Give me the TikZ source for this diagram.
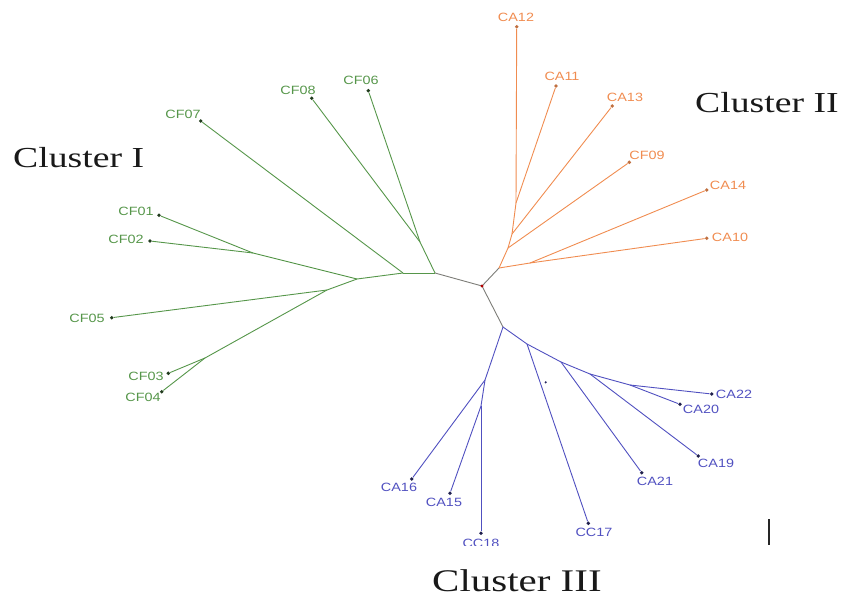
\documentclass[tikz,border=0pt]{standalone}
\usepackage{fontspec}
\setmainfont{Liberation Serif}
\setsansfont{Liberation Sans}
\usepackage{graphicx}

\definecolor{cfgreen}{RGB}{86,150,74}
\definecolor{caorange}{RGB}{240,140,80}
\definecolor{ccblue}{RGB}{80,80,192}
\definecolor{stem}{RGB}{125,125,120}

\newcommand{\wide}[1]{\scalebox{1.2}[1]{#1}}
\newcommand{\widecl}[1]{\scalebox{1.3}[1]{#1}}

\tikzset{
  leaf/.style={circle,fill,inner sep=0pt,minimum size=3.8pt},
  lab/.style={font=\sffamily\fontsize{12}{12}\selectfont,inner sep=0pt},
  clus/.style={font=\rmfamily\fontsize{29}{29}\selectfont,inner sep=0pt,anchor=base west,text=black!90},
  branch/.style={line width=0.9pt},
}

\begin{document}
\begin{tikzpicture}[x=1pt,y=-1pt]
    \useasboundingbox (0,0) rectangle (843,597);

    \begin{scope}
    \clip (0,0) rectangle (843,545);

    % inner points of the tree
    \draw
    (482,286)coordinate(root)
    (435,273)coordinate(g1)
    (420,242)coordinate(g2)
    (403,273)coordinate(g3)
    (357,279)coordinate(g4)
    (253,253)coordinate(g5)
    (327,290)coordinate(g6)
    (205,358)coordinate(g7)

    (499,268)coordinate(o1)
    (530,263)coordinate(o2)
    (508,248)coordinate(o3)
    (512,234)coordinate(o4)
    (516,203)coordinate(o5)

    (503,327)coordinate(b1)
    (527,344)coordinate(b2)
    (561,362)coordinate(b3)
    (590,374)coordinate(b4)
    (630,385)coordinate(b5)
    (485,380)coordinate(b6)
    (481,406)coordinate(b7)
    ;

    % leaves
    \node[leaf,fill=cfgreen!40!black] (CF07) at (200.7,121) {};
    \node[leaf,fill=cfgreen!40!black] (CF08) at (311.7,98.3) {};
    \node[leaf,fill=cfgreen!40!black] (CF06) at (368.3,90.7) {};
    \node[leaf,fill=cfgreen!40!black] (CF01) at (159,215.3) {};
    \node[leaf,fill=cfgreen!40!black] (CF02) at (150,241) {};
    \node[leaf,fill=cfgreen!40!black] (CF05) at (111.7,317.7) {};
    \node[leaf,fill=cfgreen!40!black] (CF03) at (168.3,373.3) {};
    \node[leaf,fill=cfgreen!40!black] (CF04) at (161.7,391.7) {};

    \node[leaf,fill=caorange!80!black] (CA12) at (516.7,26.7) {};
    \node[leaf,fill=caorange!80!black] (CA11) at (556,86) {};
    \node[leaf,fill=caorange!80!black] (CA13) at (612.3,106) {};
    \node[leaf,fill=caorange!80!black] (CF09) at (629.3,162.3) {};
    \node[leaf,fill=caorange!80!black] (CA14) at (706.7,190) {};
    \node[leaf,fill=caorange!80!black] (CA10) at (706.7,238.3) {};

    \node[leaf,fill=ccblue!40!black] (CA22) at (711.7,394) {};
    \node[leaf,fill=ccblue!40!black] (CA20) at (680,404.3) {};
    \node[leaf,fill=ccblue!40!black] (CA19) at (698.3,456) {};
    \node[leaf,fill=ccblue!40!black] (CA21) at (641.7,472.7) {};
    \node[leaf,fill=ccblue!40!black] (CC17) at (588.3,523.3) {};
    \node[leaf,fill=ccblue!40!black] (CC18) at (481,533.3) {};
    \node[leaf,fill=ccblue!40!black] (CA15) at (450,493.3) {};
    \node[leaf,fill=ccblue!40!black] (CA16) at (411.7,479) {};

    % branches
    \foreach \a/\b in {root/g1,root/o1,root/b1}
        \draw[branch,stem](\a)--(\b);
    \foreach \a/\b in {g1/g2,g2/CF08,g2/CF06,g1/g3,g3/CF07,g3/g4,g4/g5,g5/CF01,g5/CF02,
                       g4/g6,g6/CF05,g6/g7,g7/CF03,g7/CF04}
        \draw[branch,cfgreen](\a)--(\b);
    \foreach \a/\b in {o1/o2,o2/CA10,o2/CA14,o1/o3,o3/CF09,o3/o4,o4/CA13,o4/o5,o5/CA11,o5/CA12}
        \draw[branch,caorange](\a)--(\b);
    \foreach \a/\b in {b1/b2,b2/CC17,b2/b3,b3/CA21,b3/b4,b4/CA19,b4/b5,b5/CA22,b5/CA20,
                       b1/b6,b6/CA16,b6/b7,b7/CA15,b7/CC18}
        \draw[branch,ccblue](\a)--(\b);
    \fill[red!70!black] (root) circle (1.6pt);
    \fill[ccblue!50!black] (545.7,382.3) circle (1.2pt);

    % leaf labels
    \node[lab,text=cfgreen] (tCF07) at (183,114) {\wide{CF07}};
    \node[lab,text=cfgreen] (tCF08) at (298,90) {\wide{CF08}};
    \node[lab,text=cfgreen] (tCF06) at (361,80) {\wide{CF06}};
    \node[lab,text=cfgreen] (tCF01) at (136,211) {\wide{CF01}};
    \node[lab,text=cfgreen] (tCF02) at (126,239) {\wide{CF02}};
    \node[lab,text=cfgreen] (tCF05) at (87,318) {\wide{CF05}};
    \node[lab,text=cfgreen] (tCF03) at (146,376) {\wide{CF03}};
    \node[lab,text=cfgreen] (tCF04) at (143,397) {\wide{CF04}};

    \node[lab,text=caorange] (tCA12) at (516,17) {\wide{CA12}};
    \node[lab,text=caorange] (tCA11) at (562,76) {\wide{CA11}};
    \node[lab,text=caorange] (tCA13) at (625,97) {\wide{CA13}};
    \node[lab,text=caorange] (tCF09) at (647,155) {\wide{CF09}};
    \node[lab,text=caorange] (tCA14) at (728,185) {\wide{CA14}};
    \node[lab,text=caorange] (tCA10) at (730,237) {\wide{CA10}};

    \node[lab,text=ccblue] (tCA22) at (734,394) {\wide{CA22}};
    \node[lab,text=ccblue] (tCA20) at (701,409) {\wide{CA20}};
    \node[lab,text=ccblue] (tCA19) at (716,463) {\wide{CA19}};
    \node[lab,text=ccblue] (tCA21) at (655,481) {\wide{CA21}};
    \node[lab,text=ccblue] (tCC17) at (594,532) {\wide{CC17}};
    \node[lab,text=ccblue] (tCC18) at (481,543) {\wide{CC18}};
    \node[lab,text=ccblue] (tCA15) at (444,502) {\wide{CA15}};
    \node[lab,text=ccblue] (tCA16) at (399,487) {\wide{CA16}};
    \end{scope}

    % cluster names
    \node[clus] (c1) at (13,167) {\widecl{Cluster I}};
    \node[clus] (c2) at (695,112) {\widecl{Cluster II}};
    \node[clus,font=\rmfamily\fontsize{31.5}{31.5}\selectfont] (c3) at (432,591) {\widecl{Cluster III}};

    \draw[line width=1.3pt,black!85] (769,519)--(769,545);
\end{tikzpicture}
\end{document}
